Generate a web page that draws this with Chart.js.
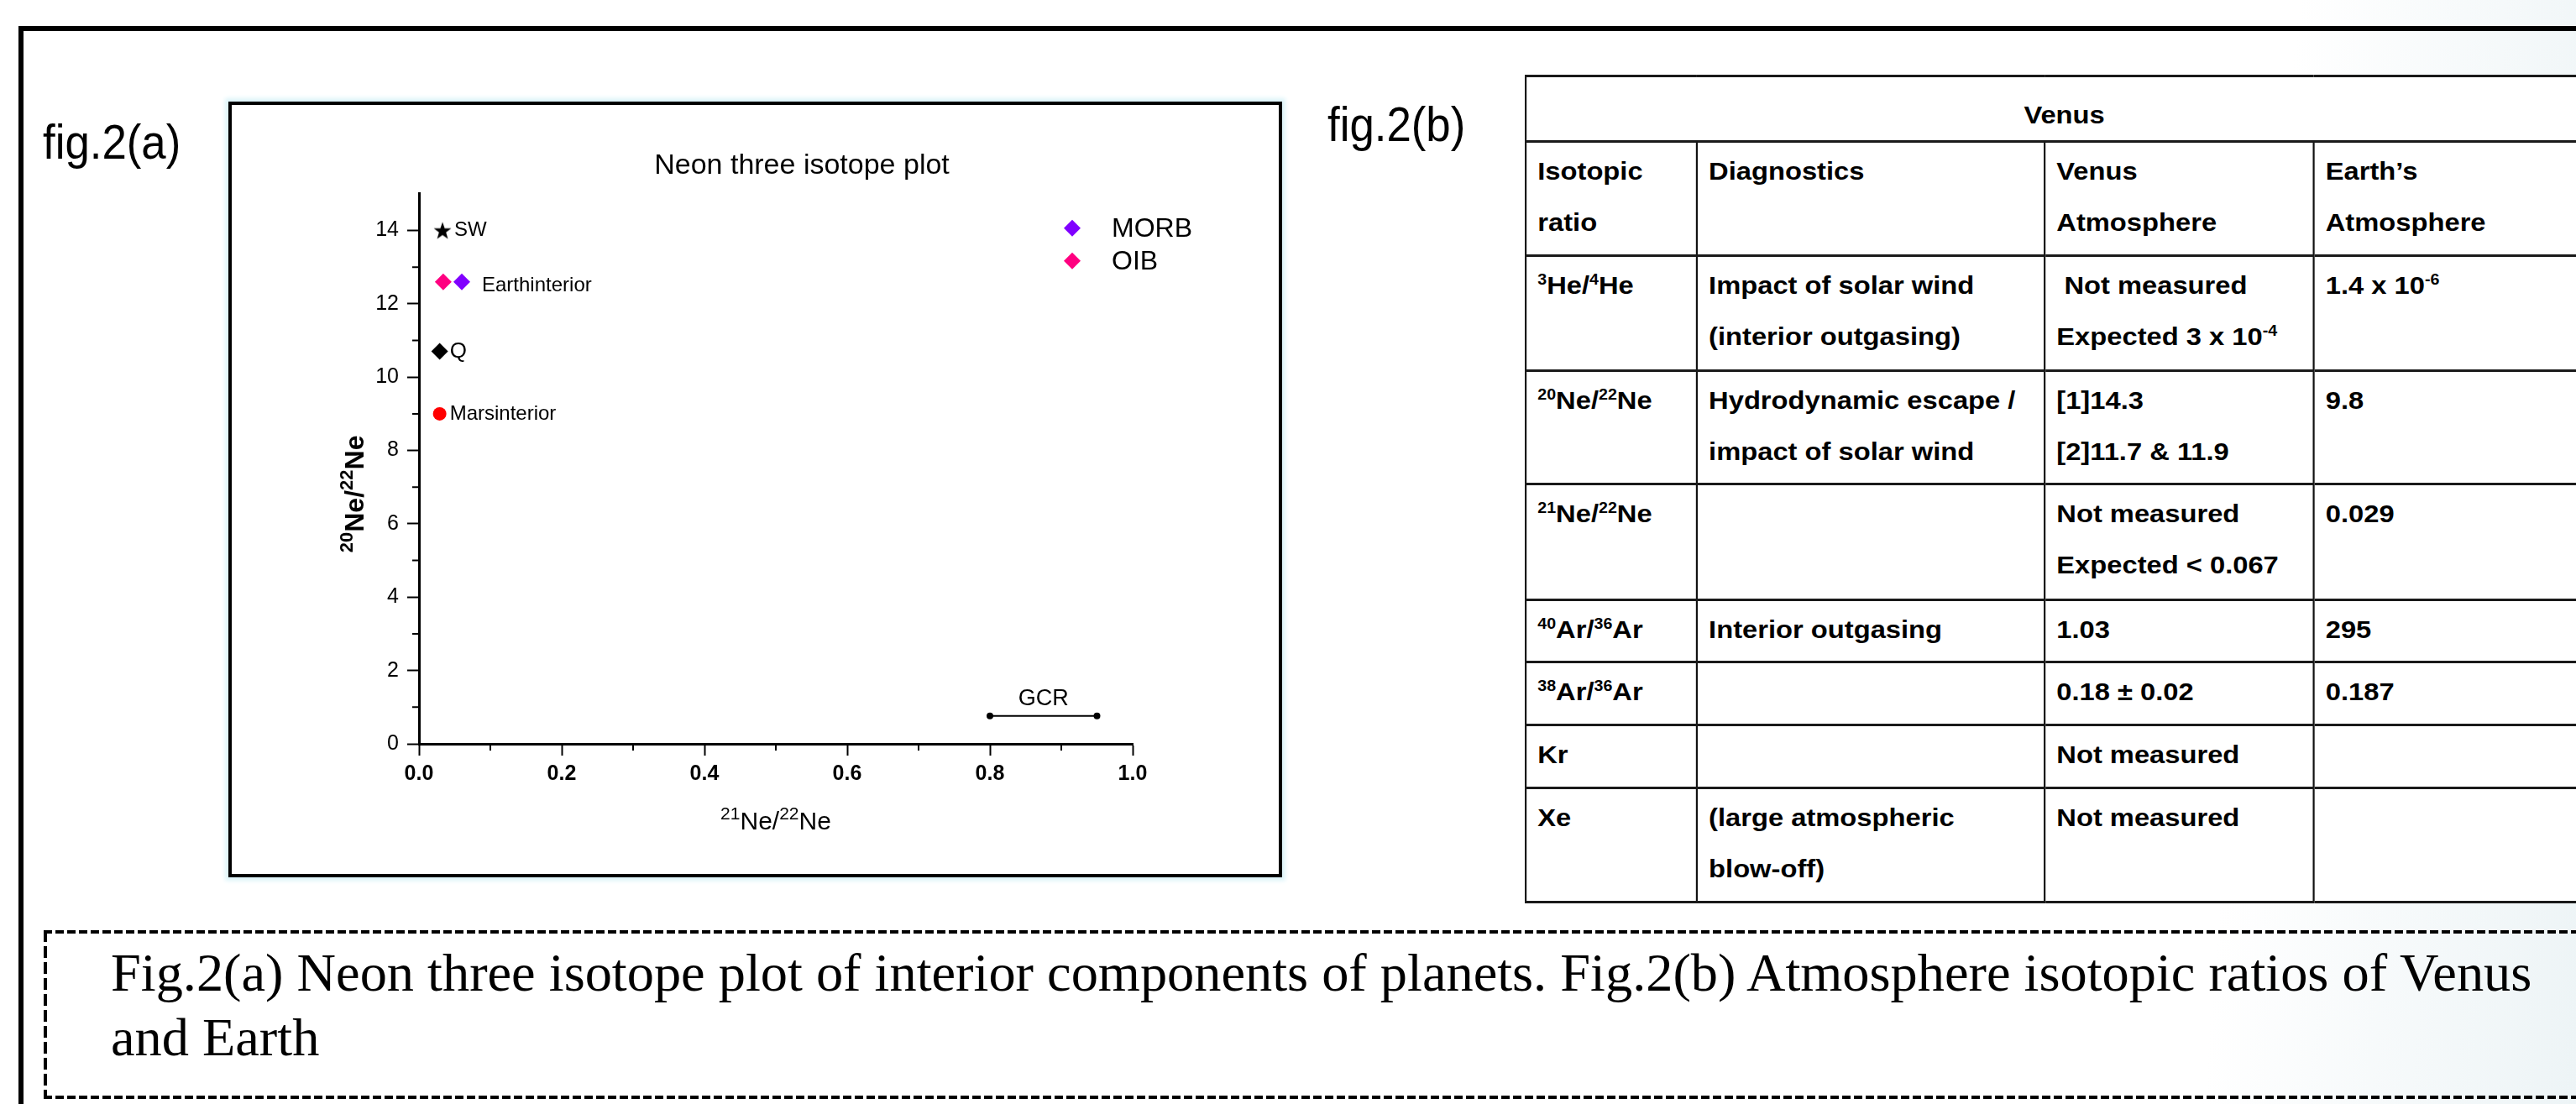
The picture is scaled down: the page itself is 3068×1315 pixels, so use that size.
<!DOCTYPE html>
<html>
<head>
<meta charset="utf-8">
<title>Neon three isotope plot</title>
<script src="https://cdn.jsdelivr.net/npm/chart.js@4.4.1/dist/chart.umd.min.js"></script>
<style>
  html, body { margin: 0; padding: 0; }
  body {
    width: 3068px; height: 1315px; overflow: hidden; position: relative;
    background: linear-gradient(95deg, #ffffff 0%, #ffffff 86%, #edf4f6 100%);
    font-family: 'Liberation Sans', Arial, sans-serif; color: #000;
  }
  .frame-top { position: absolute; left: 22px; top: 31px; right: 0; height: 6px; background: #000; }
  .frame-left { position: absolute; left: 22px; top: 31px; width: 6px; bottom: 0; background: #000; }
  .fig-label {
    position: absolute; font-size: 58px; line-height: 58px; white-space: nowrap;
    transform: scaleX(0.91); transform-origin: 0 0;
  }
  #plotBox {
    position: absolute; left: 272px; top: 121px; width: 1247px; height: 916px;
    border: 4px solid #000; background: #fff; box-shadow: 0 0 5px 4px #dcf4f9;
  }
  #neonChart { position: absolute; left: 390px; top: 125px; }

  #venusTable {
    position: absolute; left: 1816px; top: 89px;
    border-collapse: collapse; table-layout: fixed;
    transform: scaleX(1.09); transform-origin: 0 0;
    font-size: 30px; font-weight: bold; line-height: 61px;
  }
  #venusTable td {
    border-left: 2px solid #111; border-right: 2px solid #111;
    border-top: 3px solid #1a1a1a; border-bottom: 3px solid #1a1a1a;
    vertical-align: top; padding: 3px 8px 0 12px; white-space: nowrap; background: #fff;
  }
  #venusTable td.title { text-align: center; padding-top: 14px; }
  #venusTable sup { font-size: 18px; vertical-align: 11px; line-height: 0; }

  .dash-h { position: absolute; left: 52px; right: 0; height: 4px;
    background: repeating-linear-gradient(90deg, #000 0 10px, transparent 10px 14px); }
  .dash-v { position: absolute; left: 52px; width: 4px;
    background: repeating-linear-gradient(180deg, #000 0 14px, transparent 14px 19px); }
  #caption {
    position: absolute; left: 132px; top: 1120px; white-space: pre;
    font-family: 'Liberation Serif', 'Times New Roman', serif; font-size: 64px; line-height: 77px;
    transform-origin: 0 0;
  }
</style>
</head>
<body>
<div class="frame-top"></div>
<div class="frame-left"></div>

<div class="fig-label" style="left:51px; top:140px;">fig.2(a)</div>
<div class="fig-label" style="left:1581px; top:119px;">fig.2(b)</div>

<div id="plotBox"></div>
<canvas id="neonChart" width="1130" height="910"></canvas>

<table id="venusTable"></table>

<div class="dash-h" style="top:1108px;"></div>
<div class="dash-h" style="top:1305px;"></div>
<div class="dash-v" style="top:1108px; height:201px;"></div>
<div id="caption"></div>

<script>
// --- Data ---
const morbX = [0.060];
const morbY = [12.6];
const oibX = [0.034];
const oibY = [12.6];
const swX = [0.033];
const swY = [14.0];
const qX = [0.029];
const qY = [10.7];
const marsX = [0.029];
const marsY = [9.0];
const gcrX = [0.80, 0.95];
const gcrY = [0.76, 0.76];

const legendNames = ['MORB', 'OIB'];
const noteTexts = ['SW', 'Earthinterior', 'Q', 'Marsinterior', 'GCR'];

const xTicks = [0, 0.2, 0.4, 0.6, 0.8, 1.0];
const xMinor = [0.1, 0.3, 0.5, 0.7, 0.9];
const yTicks = [0, 2, 4, 6, 8, 10, 12, 14];
const yMinor = [1, 3, 5, 7, 9, 11, 13];

const xTitleParts = [['21', true], ['Ne/', false], ['22', true], ['Ne', false]];
const yTitleParts = [['20', true], ['Ne/', false], ['22', true], ['Ne', false]];

// table (fig.2b)
const tableTitle = 'Venus';
const tableHead = ['Isotopic<br>ratio', 'Diagnostics', 'Venus<br>Atmosphere', 'Earth’s<br>Atmosphere'];
const tableRows = [
    ['<sup>3</sup>He/<sup>4</sup>He', 'Impact of solar wind<br>(interior outgasing)', '&nbsp;Not measured<br>Expected 3 x 10<sup>-4</sup>', '1.4 x 10<sup>-6</sup>'],
    ['<sup>20</sup>Ne/<sup>22</sup>Ne', 'Hydrodynamic escape /<br>impact of solar wind', '[1]14.3<br>[2]11.7 &amp; 11.9', '9.8'],
    ['<sup>21</sup>Ne/<sup>22</sup>Ne', '', 'Not measured<br>Expected &lt; 0.067', '0.029'],
    ['<sup>40</sup>Ar/<sup>36</sup>Ar', 'Interior outgasing', '1.03', '295'],
    ['<sup>38</sup>Ar/<sup>36</sup>Ar', '', '0.18 ± 0.02', '0.187'],
    ['Kr', '', 'Not measured', ''],
    ['Xe', '(large atmospheric<br>blow-off)', 'Not measured', '']
];

const captionLines = [
    'Fig.2(a) Neon three isotope plot of interior components of planets. Fig.2(b) Atmosphere isotopic ratios of Venus',
    'and Earth'
];

// --- Table ---
const colWidths = [187, 380, 294, 312];
const titleRowHeight = 74;
const rowHeights = [136, 137, 135, 138, 74, 75, 75, 136];
const table = document.getElementById('venusTable');
let html = '<colgroup>' + colWidths.map(w => `<col style="width:${w}px">`).join('') + '</colgroup>';
html += `<tr style="height:${titleRowHeight}px"><td class="title" colspan="4">${tableTitle}</td></tr>`;
html += `<tr style="height:${rowHeights[0]}px">` + tableHead.map(c => `<td>${c}</td>`).join('') + '</tr>';
tableRows.forEach((row, i) => {
    html += `<tr style="height:${rowHeights[i + 1]}px">` + row.map(c => `<td>${c}</td>`).join('') + '</tr>';
});
table.innerHTML = html;

// --- Caption, squeezed to the original line length ---
const caption = document.getElementById('caption');
caption.textContent = captionLines.join('\n');
const measure = document.createElement('canvas').getContext('2d');
measure.font = "64px 'Liberation Serif'";
caption.style.transform = `scaleX(${2888 / measure.measureText(captionLines[0]).width})`;

// --- Chart ---
const FONT = "'Liberation Sans', Arial, sans-serif";
Chart.defaults.font.family = FONT;
Chart.defaults.color = '#000';

const pts = (xs, ys) => xs.map((x, i) => ({ x: x, y: ys[i] }));

// filled star marker for SW
function makeStar(size) {
    const c = document.createElement('canvas');
    c.width = c.height = size;
    const g = c.getContext('2d');
    const R = size / 2 - 1, r = R * 0.4, cx = size / 2, cy = size / 2 + 1;
    g.beginPath();
    for (let i = 0; i < 10; i++) {
        const a = -Math.PI / 2 + i * Math.PI / 5;
        const rad = i % 2 ? r : R;
        g.lineTo(cx + rad * Math.cos(a), cy + rad * Math.sin(a));
    }
    g.closePath();
    g.fillStyle = '#000';
    g.fill();
    return c;
}

function drawParts(ctx, parts, size, weight, cx, cy, rot) {
    const sup = Math.round(size * 0.7);
    const fontOf = s => `${weight} ${s}px ${FONT}`;
    ctx.save();
    ctx.translate(cx, cy);
    ctx.rotate(rot);
    ctx.fillStyle = '#000';
    ctx.textAlign = 'left';
    ctx.textBaseline = 'alphabetic';
    let total = 0;
    parts.forEach(([t, isSup]) => { ctx.font = fontOf(isSup ? sup : size); total += ctx.measureText(t).width; });
    let x = -total / 2;
    parts.forEach(([t, isSup]) => {
        ctx.font = fontOf(isSup ? sup : size);
        ctx.fillText(t, x, isSup ? -size * 0.4 : 0);
        x += ctx.measureText(t).width;
    });
    ctx.restore();
}

// minor ticks (shorter, no labels)
const minorTicks = {
    id: 'minorTicks',
    afterDraw(chart) {
        const { ctx, chartArea: a, scales: { x, y } } = chart;
        ctx.save();
        ctx.strokeStyle = '#000';
        ctx.lineWidth = 2;
        ctx.beginPath();
        xMinor.forEach(v => {
            const px = x.getPixelForValue(v);
            ctx.moveTo(px, a.bottom);
            ctx.lineTo(px, a.bottom + 8);
        });
        yMinor.forEach(v => {
            const py = y.getPixelForValue(v);
            ctx.moveTo(a.left - 8, py);
            ctx.lineTo(a.left, py);
        });
        ctx.stroke();
        ctx.restore();
    }
};

// text next to the points
const pointNotes = {
    id: 'pointNotes',
    afterDatasetsDraw(chart) {
        const ctx = chart.ctx;
        ctx.save();
        ctx.fillStyle = '#000';
        ctx.textBaseline = 'middle';
        chart.data.datasets.forEach((ds, i) => {
            if (!ds.note) return;
            const els = chart.getDatasetMeta(i).data;
            const n = ds.note;
            ctx.font = `${n.size}px ${FONT}`;
            if (n.mid) {
                ctx.textAlign = 'center';
                ctx.fillText(n.text, (els[0].x + els[els.length - 1].x) / 2, els[0].y + n.dy);
            } else {
                ctx.textAlign = 'left';
                ctx.fillText(n.text, els[0].x + n.dx, els[0].y + n.dy);
            }
        });
        ctx.restore();
    }
};

// legend in the top-right corner of the plot
const cornerLegend = {
    id: 'cornerLegend',
    afterDatasetsDraw(chart) {
        const { ctx, chartArea: a } = chart;
        ctx.save();
        ctx.textAlign = 'left';
        ctx.textBaseline = 'middle';
        ctx.font = `32px ${FONT}`;
        legendNames.forEach((name, k) => {
            const ds = chart.data.datasets.find(d => d.label === name);
            const mx = a.right - 72, my = a.top + 41 + k * 39, r = 10;
            ctx.fillStyle = ds.backgroundColor;
            ctx.beginPath();
            ctx.moveTo(mx, my - r);
            ctx.lineTo(mx + r, my);
            ctx.lineTo(mx, my + r);
            ctx.lineTo(mx - r, my);
            ctx.closePath();
            ctx.fill();
            ctx.fillStyle = '#000';
            ctx.fillText(name, a.right - 25, my + 1);
        });
        ctx.restore();
    }
};

const axisTitles = {
    id: 'axisTitles',
    afterDraw(chart) {
        const { ctx, chartArea: a } = chart;
        drawParts(ctx, xTitleParts, 30, 'normal', (a.left + a.right) / 2, a.bottom + 102, 0);
        drawParts(ctx, yTitleParts, 32, 'bold', a.left - 66, (a.top + a.bottom) / 2 + 30, -Math.PI / 2);
    }
};

const ctx = document.getElementById('neonChart').getContext('2d');
const neonChart = new Chart(ctx, {
    type: 'scatter',
    data: {
        datasets: [
            {
                label: legendNames[0],
                data: pts(morbX, morbY),
                pointStyle: 'rectRot', pointRadius: 10, pointBorderWidth: 0,
                backgroundColor: '#8000ff', borderColor: '#8000ff',
                note: { text: noteTexts[1], dx: 24, dy: 5, size: 24 }
            },
            {
                label: legendNames[1],
                data: pts(oibX, oibY),
                pointStyle: 'rectRot', pointRadius: 10, pointBorderWidth: 0,
                backgroundColor: '#ff0080', borderColor: '#ff0080'
            },
            {
                label: noteTexts[0],
                data: pts(swX, swY),
                pointStyle: makeStar(24), pointRadius: 12,
                backgroundColor: '#000', borderColor: '#000',
                note: { text: noteTexts[0], dx: 14, dy: 0, size: 24 }
            },
            {
                label: noteTexts[2],
                data: pts(qX, qY),
                pointStyle: 'rectRot', pointRadius: 10, pointBorderWidth: 0,
                backgroundColor: '#000', borderColor: '#000',
                note: { text: noteTexts[2], dx: 12, dy: 0, size: 26 }
            },
            {
                label: noteTexts[3],
                data: pts(marsX, marsY),
                pointStyle: 'circle', pointRadius: 8, pointBorderWidth: 0,
                backgroundColor: '#ff0000', borderColor: '#ff0000',
                note: { text: noteTexts[3], dx: 12, dy: 0, size: 24 }
            },
            {
                label: noteTexts[4],
                data: pts(gcrX, gcrY),
                showLine: true, borderWidth: 2, borderColor: '#000',
                pointRadius: 4, pointBorderWidth: 0, backgroundColor: '#000',
                note: { text: noteTexts[4], mid: true, dy: -20, size: 27 }
            }
        ]
    },
    options: {
        responsive: false,
        animation: false,
        devicePixelRatio: 1,
        events: [],
        layout: { padding: { left: 0, right: 0, top: 0, bottom: 39 } },
        plugins: {
            legend: { display: false },
            tooltip: { enabled: false },
            title: {
                display: true,
                text: 'Neon three isotope plot',
                color: '#000',
                font: { size: 34, weight: 'normal' },
                padding: { top: 52, bottom: 13 }
            }
        },
        scales: {
            x: {
                type: 'linear', min: 0, max: 1,
                afterBuildTicks: s => { s.ticks = xTicks.map(v => ({ value: v })); },
                afterFit: s => { s.height = 110; },
                grid: { display: true, drawOnChartArea: false, drawTicks: true, tickLength: 14, tickWidth: 2, tickColor: '#000' },
                border: { display: true, color: '#000', width: 3 },
                ticks: {
                    color: '#000', padding: 7, autoSkip: false, maxRotation: 0,
                    font: { size: 25, weight: 'bold' },
                    callback: v => Number(v).toFixed(1)
                }
            },
            y: {
                type: 'linear', min: 0, max: 15,
                afterBuildTicks: s => { s.ticks = yTicks.map(v => ({ value: v })); },
                afterFit: s => { s.width = 109; },
                grid: { display: true, drawOnChartArea: false, drawTicks: true, tickLength: 14, tickWidth: 2, tickColor: '#000' },
                border: { display: true, color: '#000', width: 3 },
                ticks: {
                    color: '#000', padding: 10, autoSkip: false,
                    font: { size: 25 },
                    callback: v => String(v)
                }
            },
            // empty right-hand axis: keeps room for the legend so the title stays centred on the panel
            yRoom: {
                type: 'linear', position: 'right', display: true,
                grid: { display: false }, border: { display: false }, ticks: { display: false },
                afterFit: s => { s.width = 171; }
            }
        }
    },
    plugins: [minorTicks, pointNotes, cornerLegend, axisTitles]
});
</script>
</body>
</html>
